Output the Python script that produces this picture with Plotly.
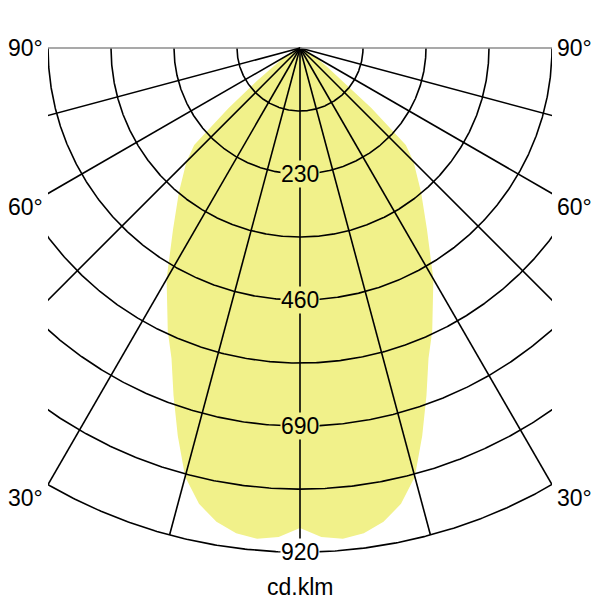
import numpy as np
import plotly.graph_objects as go

# ---- data (luminous intensity distribution, cd/klm) ----
angles_deg = [0, 2.5, 5, 7.5, 10, 12.5, 15, 17.5, 20, 22.5, 25, 30, 35, 40, 45,
              47.5, 50, 52.5, 55, 60, 65, 70, 75, 80, 85, 90]
intensity_cd_klm = [876, 893, 899, 893, 878, 852, 810, 742, 675, 613, 571, 487, 404, 344, 293,
                    262, 170, 100, 62, 32, 18, 10, 5, 2, 0, 0]
ring_values = [115, 230, 345, 460, 575, 690, 805, 920]
ring_labels = [230, 460, 690, 920]
spoke_angles = [-90, -75, -60, -45, -30, -15, 0, 15, 30, 45, 60, 75, 90]
angle_labels = [90, 60, 30]
unit_label = "cd.klm"

FILL = "rgb(241,241,138)"
FONT = "Liberation Sans, Arial, sans-serif"
LW = 1.6

# the page body adds an 8px offset, so the figure is 592px and shifted accordingly
OFF = 8
W = H = 600 - OFF
scale = 0.548            # px per cd/klm
half_w = 460
l = 48 - OFF
t = 44 - OFF
plot_w = 504
plot_h = 516
r = W - l - plot_w
b = H - t - plot_h
center_px = 48 - OFF
y_top = (center_px - t) / scale
y_bot = y_top - plot_h / scale

fig = go.Figure()

# filled intensity curve (mirrored plane)
a = np.array(angles_deg, dtype=float)
v = np.array(intensity_cd_klm, dtype=float)
full_a = np.concatenate([-a[::-1], a[1:]])
full_v = np.concatenate([v[::-1], v[1:]])
th = np.radians(full_a)
fig.add_trace(go.Scatter(
    x=full_v * np.sin(th), y=-full_v * np.cos(th),
    mode="lines", fill="toself", fillcolor=FILL,
    line=dict(width=0, color=FILL), hoverinfo="skip", showlegend=False))

# rings
arc = np.radians(np.linspace(-90, 90, 721))
for rv in ring_values:
    fig.add_trace(go.Scatter(
        x=rv * np.sin(arc), y=-rv * np.cos(arc), mode="lines",
        line=dict(color="black", width=LW), hoverinfo="skip", showlegend=False))

# spokes
rmax = max(ring_values)
for sa in spoke_angles:
    s = np.radians(sa)
    col = "#8c8c8c" if abs(sa) == 90 else "black"
    fig.add_trace(go.Scatter(
        x=[0, rmax * np.sin(s)], y=[0, -rmax * np.cos(s)], mode="lines",
        line=dict(color=col, width=LW), hoverinfo="skip", showlegend=False))

annotations = []
for rv in ring_labels:
    bg = FILL if rv < intensity_cd_klm[0] else "white"
    annotations.append(dict(x=0, y=-rv, xref="x", yref="y", text=str(rv),
                            showarrow=False, font=dict(family=FONT, size=23, color="black"),
                            bgcolor=bg, borderpad=0, xanchor="center", yanchor="middle"))

for ang in angle_labels:
    yv = 0 if ang == 90 else -half_w / np.tan(np.radians(ang))
    ys = 0 if ang == 90 else -13
    for side in (0, 1):
        annotations.append(dict(
            x=side, y=yv, xref="paper", yref="y", text=f"{ang}°", showarrow=False,
            font=dict(family=FONT, size=23, color="black"), borderpad=0,
            xanchor="right" if side == 0 else "left",
            xshift=-4 if side == 0 else 4, yshift=ys, yanchor="middle"))

annotations.append(dict(x=0.5, y=(H - b - (587 - OFF)) / plot_h, xref="paper", yref="paper",
                        text=unit_label, showarrow=False,
                        font=dict(family=FONT, size=23, color="black"),
                        xanchor="center", yanchor="middle"))

fig.update_layout(
    width=W, height=H,
    margin=dict(l=l, r=r, t=t, b=b, pad=0),
    paper_bgcolor="white", plot_bgcolor="white",
    xaxis=dict(range=[-half_w, half_w], visible=False, showgrid=False, zeroline=False, fixedrange=True),
    yaxis=dict(range=[y_bot, y_top], visible=False, showgrid=False, zeroline=False, fixedrange=True),
    annotations=annotations,
    showlegend=False,
)

fig.write_html("out.html")
